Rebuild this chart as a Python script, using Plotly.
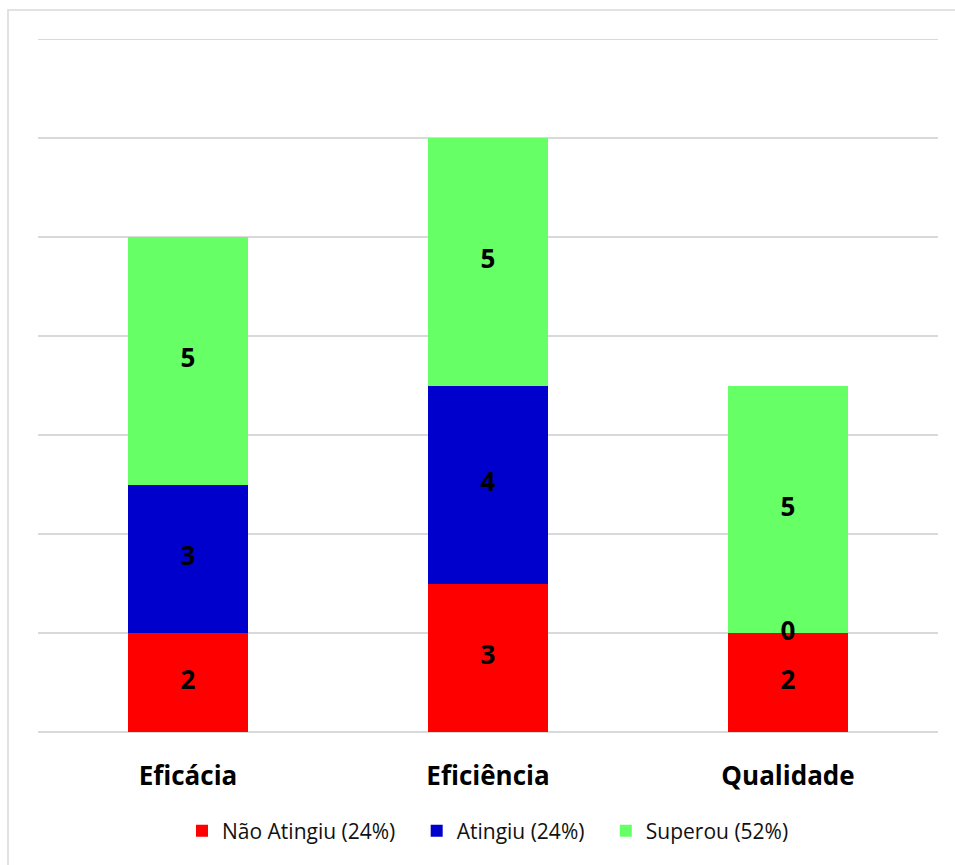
import plotly.graph_objects as go

categories = ["Eficácia", "Eficiência", "Qualidade"]
nao_atingiu = [2, 3, 2]
atingiu = [3, 4, 0]
superou = [5, 5, 5]

series_names = ["Não Atingiu (24%)", "Atingiu (24%)", "Superou (52%)"]
series_colors = ["#FF0000", "#0000CC", "#66FF66"]
series_values = [nao_atingiu, atingiu, superou]

FONT = "Open Sans"
Y_MAX = 14
NBSP = "\u00a0"

fig = go.Figure()

# stacked bars; non-breaking spaces widen the gap between legend entries
for i, (name, color, vals) in enumerate(zip(series_names, series_colors, series_values)):
    pad = NBSP * 3 if i < len(series_names) - 1 else ""
    fig.add_trace(go.Bar(
        x=categories, y=vals, name=name + pad,
        marker=dict(color=color, line=dict(width=0)),
        hovertemplate="%{x}: %{y}<extra>" + name + "</extra>",
    ))

# value labels centred on each segment (zero-height segments included)
base = [0] * len(categories)
for vals in series_values:
    mids = [b + v / 2 for b, v in zip(base, vals)]
    fig.add_trace(go.Scatter(
        x=categories, y=mids, mode="text",
        text=[str(v) for v in vals],
        textfont=dict(family=FONT, size=26, color="black", weight="bold"),
        textposition="middle center",
        showlegend=False, hoverinfo="skip",
    ))
    base = [b + v for b, v in zip(base, vals)]

# outer frame of the chart area
fig.add_shape(
    type="rect", xref="paper", yref="paper",
    x0=-30 / 900, x1=1.03, y0=-0.2, y1=(732 - 10) / 693,
    line=dict(color="#D9D9D9", width=1.5), fillcolor="rgba(0,0,0,0)",
    layer="below",
)

# top gridline at the axis maximum
fig.add_shape(
    type="line", xref="paper", yref="y",
    x0=0, x1=1, y0=Y_MAX, y1=Y_MAX,
    line=dict(color="#D9D9D9", width=2), layer="below",
)

fig.update_layout(
    barmode="stack",
    bargap=0.6,
    width=955, height=865,
    margin=dict(l=38, r=17, t=39, b=133),
    paper_bgcolor="white",
    plot_bgcolor="white",
    font=dict(family=FONT, color="black"),
    showlegend=True,
    legend=dict(
        orientation="h", x=0.5, xanchor="center",
        y=(732 - 831) / 693, yanchor="middle",
        font=dict(family=FONT, size=21, color="#111111"),
        traceorder="normal",
        itemwidth=30, tracegroupgap=0,
    ),
    xaxis=dict(
        showgrid=False, showline=False, zeroline=False,
        tickfont=dict(family=FONT, size=26, color="black", weight="bold"),
        ticks="", ticklabelstandoff=26,
    ),
    yaxis=dict(
        range=[0, Y_MAX], dtick=2, showticklabels=False,
        showgrid=True, gridcolor="#D9D9D9", gridwidth=2,
        zeroline=True, zerolinecolor="#D9D9D9", zerolinewidth=2,
        showline=False, ticks="",
    ),
)

fig.write_html("out.html")
